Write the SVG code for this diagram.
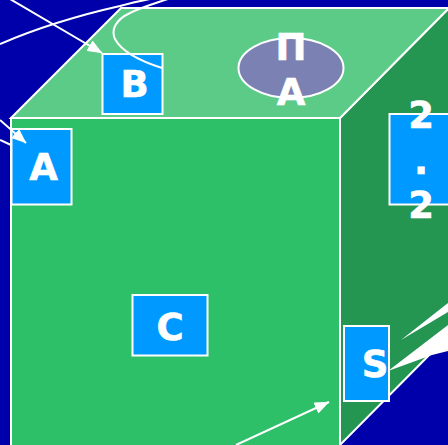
<svg xmlns="http://www.w3.org/2000/svg" width="448" height="445" viewBox="0 0 448 445">
<defs>
<marker id="arr" markerUnits="userSpaceOnUse" markerWidth="15" markerHeight="12" refX="14.500" refY="6" orient="auto"><path d="M0 0L15 6L0 12L0 6Z" fill="#fff"/></marker>
</defs>
<style>
.face{stroke:#fff;stroke-width:2;stroke-linejoin:miter}
.box{fill:#0099ff;stroke:#fff;stroke-width:2}
.lbl{font-family:"DejaVu Sans",sans-serif;font-weight:700;font-size:37px;fill:#fff;text-anchor:middle;stroke:#fff;stroke-width:.6px}
.wire{fill:none;stroke:#fff;stroke-width:2}
</style>
<rect width="448" height="445" fill="#0000aa"/>
<g id="cube">
<path class="face" fill="#259552" d="M340 118L449 8V335L340 445Z"/>
<path class="face" fill="#2ec069" d="M11 118H340V446H11Z"/>
<path class="face" fill="#5ccb88" d="M11 118L121 8H449L340 118Z"/>
</g>
<path d="M342 445L432 355L448 350V446H342Z" fill="#0000aa"/>
<g id="node-a"><rect class="box" x="11.500" y="129" width="60" height="75.500"/><text class="lbl" x="43.500" y="180">A</text></g>
<g id="node-b"><rect class="box" x="102.500" y="54" width="60" height="60"/><text class="lbl" x="134.500" y="97">B</text></g>
<g id="node-c"><rect class="box" x="132.500" y="295" width="75" height="60.500"/><text class="lbl" x="170" y="340">C</text></g>
<g id="node-s"><rect class="box" x="344" y="326" width="45" height="75"/><text class="lbl" x="375" y="377">S</text></g>
<g id="node-pa"><ellipse cx="291" cy="68" rx="52.500" ry="30" fill="#7b82b3" stroke="#fff" stroke-width="2"/><text class="lbl" x="291" y="60">П</text><text class="lbl" x="291" y="105">А</text></g>
<g id="node-22"><rect class="box" x="389.500" y="114" width="75" height="90.500"/><text class="lbl" x="421" y="128">2</text><text class="lbl" x="421" y="174">.</text><text class="lbl" x="421" y="218">2</text></g>
<g id="connectors">
<path class="wire" d="M0 44C35 29 80 15 120 6C130 3 140 1 150 -1"/>
<path class="wire" d="M168 -1C150 5 140 8 130 13C115 20 111 30 115 39C122 52 140 61 162 68"/>
<path class="wire" d="M10 -1L102 53" marker-end="url(#arr)"/>
<path class="wire" d="M0 120L26 143" marker-end="url(#arr)"/>
<path class="wire" d="M0 140L11 145"/>
<path class="wire" d="M236 445L329 402" marker-end="url(#arr)"/>
<path d="M388 371L448 325V351L432 355Z" fill="#fff"/>
<path d="M401 340L448 303V312Z" fill="#fff"/>
</g>
</svg>
